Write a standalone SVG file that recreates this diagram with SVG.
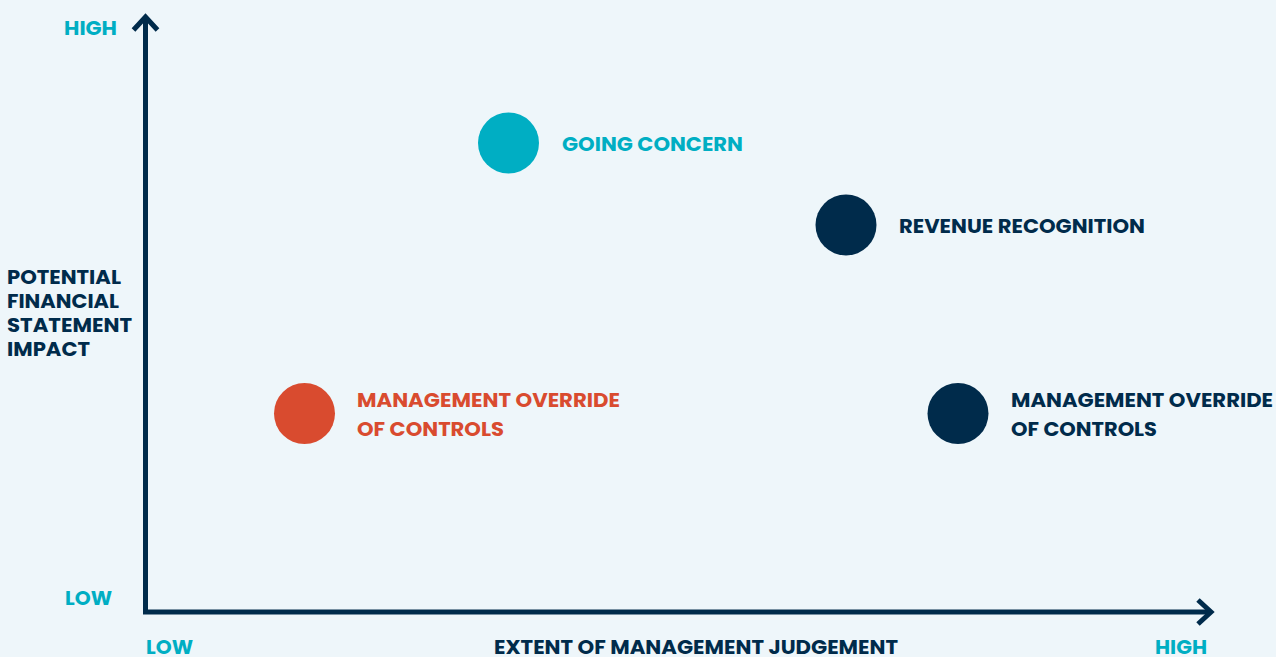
<svg xmlns="http://www.w3.org/2000/svg" width="1276" height="657" viewBox="0 0 1276 657">
<style>
  text { font-family: Poppins, Inter, "Open Sans", "DejaVu Sans", sans-serif; font-weight: 700; font-size: 20px; }
  .teal { fill: #00AEC3; }
  .navy { fill: #002B4B; }
  .orange { fill: #D94B2F; }
  .axis { fill: none; stroke: #002B4B; stroke-width: 5; }
</style>
<defs>
  <marker id="chev" markerUnits="userSpaceOnUse" orient="auto" refX="0" refY="0" markerWidth="40" markerHeight="40" viewBox="-20 -20 40 40" overflow="visible">
    <path d="M-13,-12 L0,0 L-13,12" fill="none" stroke="#002B4B" stroke-width="5"/>
  </marker>
</defs>
<rect width="1276" height="657" fill="#EEF6FA"/>
<g id="connectors">
  <path id="y-axis" class="axis" d="M145.5,612 V17" marker-end="url(#chev)"/>
  <path id="x-axis" class="axis" d="M143,612 H1211" marker-end="url(#chev)"/>
</g>
<g id="axis-labels">
  <text class="teal" x="64" y="35" textLength="53" lengthAdjust="spacingAndGlyphs">HIGH</text>
  <text class="teal" x="65" y="605" textLength="47" lengthAdjust="spacingAndGlyphs">LOW</text>
  <text class="teal" x="146" y="654" textLength="47" lengthAdjust="spacingAndGlyphs">LOW</text>
  <text class="teal" x="1155" y="654" textLength="52" lengthAdjust="spacingAndGlyphs">HIGH</text>
  <text class="navy" x="494" y="654" textLength="404" lengthAdjust="spacingAndGlyphs">EXTENT OF MANAGEMENT JUDGEMENT</text>
  <text class="navy">
    <tspan x="7" y="284" textLength="114" lengthAdjust="spacingAndGlyphs">POTENTIAL</tspan>
    <tspan x="7" y="308" textLength="112" lengthAdjust="spacingAndGlyphs">FINANCIAL</tspan>
    <tspan x="7" y="332" textLength="125" lengthAdjust="spacingAndGlyphs">STATEMENT</tspan>
    <tspan x="7" y="356" textLength="83" lengthAdjust="spacingAndGlyphs">IMPACT</tspan>
  </text>
</g>
<g id="going-concern">
  <circle class="teal" cx="508.5" cy="143" r="30.5"/>
  <text class="teal" x="562" y="151" textLength="181" lengthAdjust="spacingAndGlyphs">GOING CONCERN</text>
</g>
<g id="revenue-recognition">
  <circle class="navy" cx="846" cy="225" r="30.5"/>
  <text class="navy" x="899" y="233" textLength="246" lengthAdjust="spacingAndGlyphs">REVENUE RECOGNITION</text>
</g>
<g id="management-override-low">
  <circle class="orange" cx="304.5" cy="413.5" r="30.5"/>
  <text class="orange">
    <tspan x="357" y="407" textLength="263" lengthAdjust="spacingAndGlyphs">MANAGEMENT OVERRIDE</tspan>
    <tspan x="357" y="436" textLength="147" lengthAdjust="spacingAndGlyphs">OF CONTROLS</tspan>
  </text>
</g>
<g id="management-override-high">
  <circle class="navy" cx="958" cy="413.5" r="30.5"/>
  <text class="navy">
    <tspan x="1011" y="407" textLength="262" lengthAdjust="spacingAndGlyphs">MANAGEMENT OVERRIDE</tspan>
    <tspan x="1011" y="436" textLength="146" lengthAdjust="spacingAndGlyphs">OF CONTROLS</tspan>
  </text>
</g>
</svg>
